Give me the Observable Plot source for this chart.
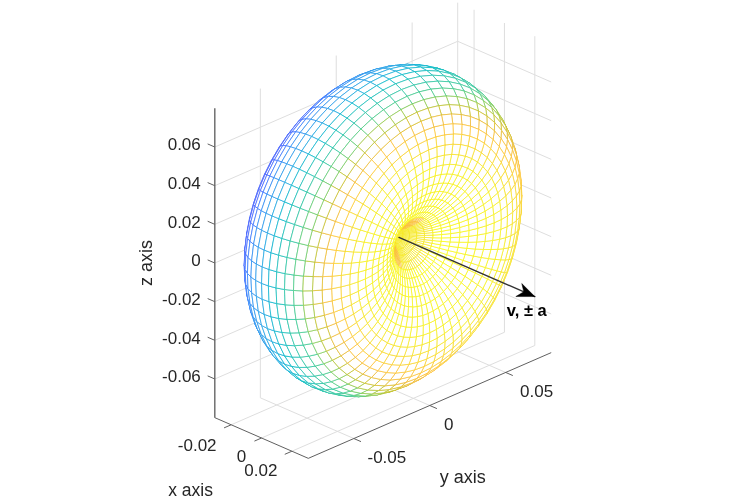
<!DOCTYPE html>
<html><head><meta charset="utf-8">
<style>html,body{margin:0;padding:0;background:#fff;overflow:hidden}svg{display:block;filter:blur(0.35px)}</style>
<script src="https://cdn.jsdelivr.net/npm/d3@7"></script>
<script src="https://cdn.jsdelivr.net/npm/@observablehq/plot@0.6"></script>
</head><body><div id="chart"></div>
<script>
// Axis limits and ticks (data units)
const xLim = [-0.0308, 0.0308];
const yLim = [-0.08, 0.08];
const zLim = [-0.08, 0.08];
const xTicks = [-0.02, 0, 0.02];
const yTicks = [-0.05, 0, 0.05];
const zTicks = [-0.06, -0.04, -0.02, 0, 0.02, 0.04, 0.06];
const xTickLabels = ["-0.02", "0", "0.02"];
const yTickLabels = ["-0.05", "0", "0.05"];
const zTickLabels = ["-0.06", "-0.04", "-0.02", "0", "0.02", "0.04", "0.06"];

// Lobe profile: polar angle from the x axis (deg) and radius
const polarAngle = [0,3,6,9,12,15,18,21,24,27,30,33,36,39,42,45,48,51,54,57,60,63,66,69,72,75,78,81,84,87,90,
  93,96,99,102,105,108,111,114,117,120,123,126,129,132,135,138,141,144,147,150,153,156,159,162,165,168,171,174,177,180];
const lobeRadius = [0,.00022,.00087,.00196,.00346,.00536,.00764,.01027,.01323,.01649,.02,.02373,.02764,.03168,.03582,.04,
  .04418,.04832,.05236,.05627,.06,.06351,.06677,.06973,.07236,.07464,.07654,.07804,.07913,.07978,.08,
  .07978,.07913,.07804,.07654,.07464,.07236,.06973,.06677,.06351,.06,.05627,.05236,.04832,.04418,.04,
  .03582,.03168,.02764,.02373,.02,.01649,.01323,.01027,.00764,.00536,.00346,.00196,.00087,.00022,0];
const meridianAngle = [0,6,12,18,24,30,36,42,48,54,60,66,72,78,84,90,96,102,108,114,120,126,132,138,144,150,156,162,168,174,
  180,186,192,198,204,210,216,222,228,234,240,246,252,258,264,270,276,282,288,294,300,306,312,318,324,330,336,342,348,354,360];

// Colour: position on the colour map against the distance from the funnel,
// measured in the view plane with the direction across the axis shortened.
const toneDistance = [0, .031, .039, .046, .054, .06, .063, .069, .074, .079, .083, .088];
const toneValue = [1, .97, .92, .85, .72, .57, .55, .47, .38, .31, .2, .15];
const toneCentre = [0.0221, -0.0093];
const toneStretch = 1.3;
const throatAngle = 33, throatNear = 0.84, throatFar = 0.95;

// Arrow along +x, head vertices in data units
const arrowX = [0.0105, 0.1];
const headX = [0.1, 0.0914, 0.09275, 0.0875, 0.1];
const headZ = [0, 0.0038, 0, -0.00426, 0];

// Parula colour map
const parula = ["#3e26a8","#4332cb","#4741e5","#4752f4","#4563fd","#3875fe","#2d87f7","#2796eb","#20a5e3","#12b1d6","#02bac3",
  "#24c1ae","#37c897","#57cc7a","#80cc59","#abc739","#d1bf27","#efba36","#fec338","#f9d62d","#f5e924","#f9fb15"];

// View (MATLAB view(45, 25.8)), orthographic
const az = 45 * Math.PI / 180, el = 25.8 * Math.PI / 180;
const U = (x, y) => x * Math.cos(az) + y * Math.sin(az);
const W = (x, y, z) => -x * Math.sin(az) * Math.sin(el) + y * Math.cos(az) * Math.sin(el) + z * Math.cos(el);
const depth = (x, y, z) => x * Math.sin(az) * Math.cos(el) - y * Math.cos(az) * Math.cos(el) + z * Math.sin(el);
const rad = Math.PI / 180;
const P = (x, y, z) => ({u: U(x, y), w: W(x, y, z)});
const seg = (a, b) => { const p = P(...a), q = P(...b); return {u1: p.u, w1: p.w, u2: q.u, w2: q.w}; };

const toneOf = d3.scaleLinear(toneDistance, toneValue).clamp(true);
const tone = (x, y, z) => {
  const {u, w} = P(x, y, z);
  const du = u - toneCentre[0], dw = -(w - toneCentre[1]);
  const along = 0.92 * du + 0.39 * dw, across = -0.39 * du + 0.92 * dw;
  return toneOf(Math.hypot(along, across / toneStretch));
};
const throat = (y, z) => (-Math.cos(az) * y + Math.tan(el) * z > 0 ? throatNear : throatFar);

// Surface point
const pt = (i, j) => {
  const t = polarAngle[i] * rad, r = lobeRadius[i], f = meridianAngle[j] * rad;
  return [r * Math.cos(t), r * Math.sin(t) * Math.cos(f), r * Math.sin(t) * Math.sin(f)];
};
const quads = [];
for (let i = 0; i < polarAngle.length - 1; i++) for (let j = 0; j < meridianAngle.length - 1; j++) {
  const c = [pt(i, j), pt(i + 1, j), pt(i + 1, j + 1), pt(i, j + 1)];
  const m = [0, 1, 2].map(k => d3.mean(c, p => p[k]));
  quads.push({c, d: depth(...m), col: polarAngle[i] < throatAngle ? throat(m[1], m[2]) : tone(...m)});
}
quads.sort((a, b) => a.d - b.d);
const rows = [];
quads.forEach((q, id) => {
  [...q.c, q.c[0]].forEach(p => rows.push({id, col: q.col, ...P(...p)}));
});

// Grid and axes
const [x0, x1] = xLim, [y0, y1] = yLim, [z0, z1] = zLim;
const grid = [
  ...xTicks.map(x => seg([x, y0, z0], [x, y1, z0])),
  ...yTicks.map(y => seg([x0, y, z0], [x1, y, z0])),
  ...yTicks.map(y => seg([x0, y, z0], [x0, y, z1])),
  ...zTicks.map(z => seg([x0, y0, z], [x0, y1, z])),
  ...xTicks.map(x => seg([x, y1, z0], [x, y1, z1])),
  ...zTicks.map(z => seg([x0, y1, z], [x1, y1, z])),
  seg([x0, y1, z0], [x0, y1, z1])
];
const axes = [seg([x0, y0, z0], [x1, y0, z0]), seg([x1, y0, z0], [x1, y1, z0])];
const zAxis = [seg([x0, y0, z0], [x0, y0, z1])];
const tick = 0.0047;
const ticks = [
  ...xTicks.map(x => seg([x, y0, z0], [x, y0 - tick, z0])),
  ...yTicks.map(y => seg([x1, y, z0], [x1 + tick, y, z0])),
  ...zTicks.map(z => seg([x0, y0, z], [x0 - tick, y0, z]))
];
const at = (p, text, dx, dy) => ({...P(...p), text, dx, dy});
const xLabels = [at([xTicks[0], y0, z0], xTickLabels[0], -34, 21), at([xTicks[1], y0, z0], xTickLabels[1], -20, 19), at([xTicks[2], y0, z0], xTickLabels[2], -31, 19)];
const yLabels = [at([x1, yTicks[0], z0], yTickLabels[0], 33, 19), at([x1, yTicks[1], z0], yTickLabels[1], 19, 19), at([x1, yTicks[2], z0], yTickLabels[2], 31, 19)];
const zLabels = zTicks.map((z, i) => at([x0, y0, z], zTickLabels[i], -14, -2));
const labelMark = (d, o) => Plot.text([d], {x: "u", y: "w", text: "text", dx: d.dx, dy: d.dy, fill: "#262626", fontSize: 17, ...o});

const S = 2147, ox = 382.5, oy = 230;
const chart = Plot.plot({
  width: 739, height: 499, margin: 0,
  style: {fontFamily: "'Liberation Sans', Arial, sans-serif", background: "#fff"},
  x: {axis: null, domain: [-ox / S, (739 - ox) / S], range: [0, 739]},
  y: {axis: null, domain: [-(499 - oy) / S, oy / S], range: [499, 0]},
  color: {type: "linear", domain: [0, 1], interpolate: d3.piecewise(d3.interpolateRgb, parula)},
  marks: [
    Plot.link(grid, {x1: "u1", y1: "w1", x2: "u2", y2: "w2", stroke: "#dedede", strokeWidth: 1}),
    Plot.link(axes, {x1: "u1", y1: "w1", x2: "u2", y2: "w2", stroke: "#606060", strokeWidth: 1}),
    Plot.link(zAxis, {x1: "u1", y1: "w1", x2: "u2", y2: "w2", stroke: "#707070", strokeWidth: 1.5}),
    Plot.link(ticks, {x1: "u1", y1: "w1", x2: "u2", y2: "w2", stroke: "#606060", strokeWidth: 1}),
    Plot.line(rows, {x: "u", y: "w", z: "id", stroke: "col", fill: "white", strokeWidth: 0.75, strokeLinejoin: "round"}),
    Plot.line(arrowX.map(x => P(x, 0, 0)), {x: "u", y: "w", stroke: "#333", strokeWidth: 1.4}),
    Plot.line(headX.map((x, i) => P(x, 0, headZ[i])), {x: "u", y: "w", fill: "black", stroke: "black", strokeWidth: 0.5}),
    ...xLabels.map(d => labelMark(d, {})),
    ...yLabels.map(d => labelMark(d, {})),
    ...zLabels.map(d => labelMark(d, {textAnchor: "end"})),
    labelMark(at([xTicks[1], y0, z0], "x axis", -71, 52.5), {fontSize: 17.5}),
    labelMark(at([x1, yTicks[1], z0], "y axis", 33, 72), {fontSize: 18}),
    labelMark(at([x0, y0, 0], "z axis", -69, 0), {rotate: -90, fontSize: 18}),
    Plot.text([P(0.1, 0, 0)], {x: "u", y: "w", text: () => "v, \u00b1 a", dx: -8, dy: 14, fill: "black", fontWeight: "bold", fontSize: 16.5})
  ]
});
document.getElementById("chart").append(chart);
</script></body></html>
